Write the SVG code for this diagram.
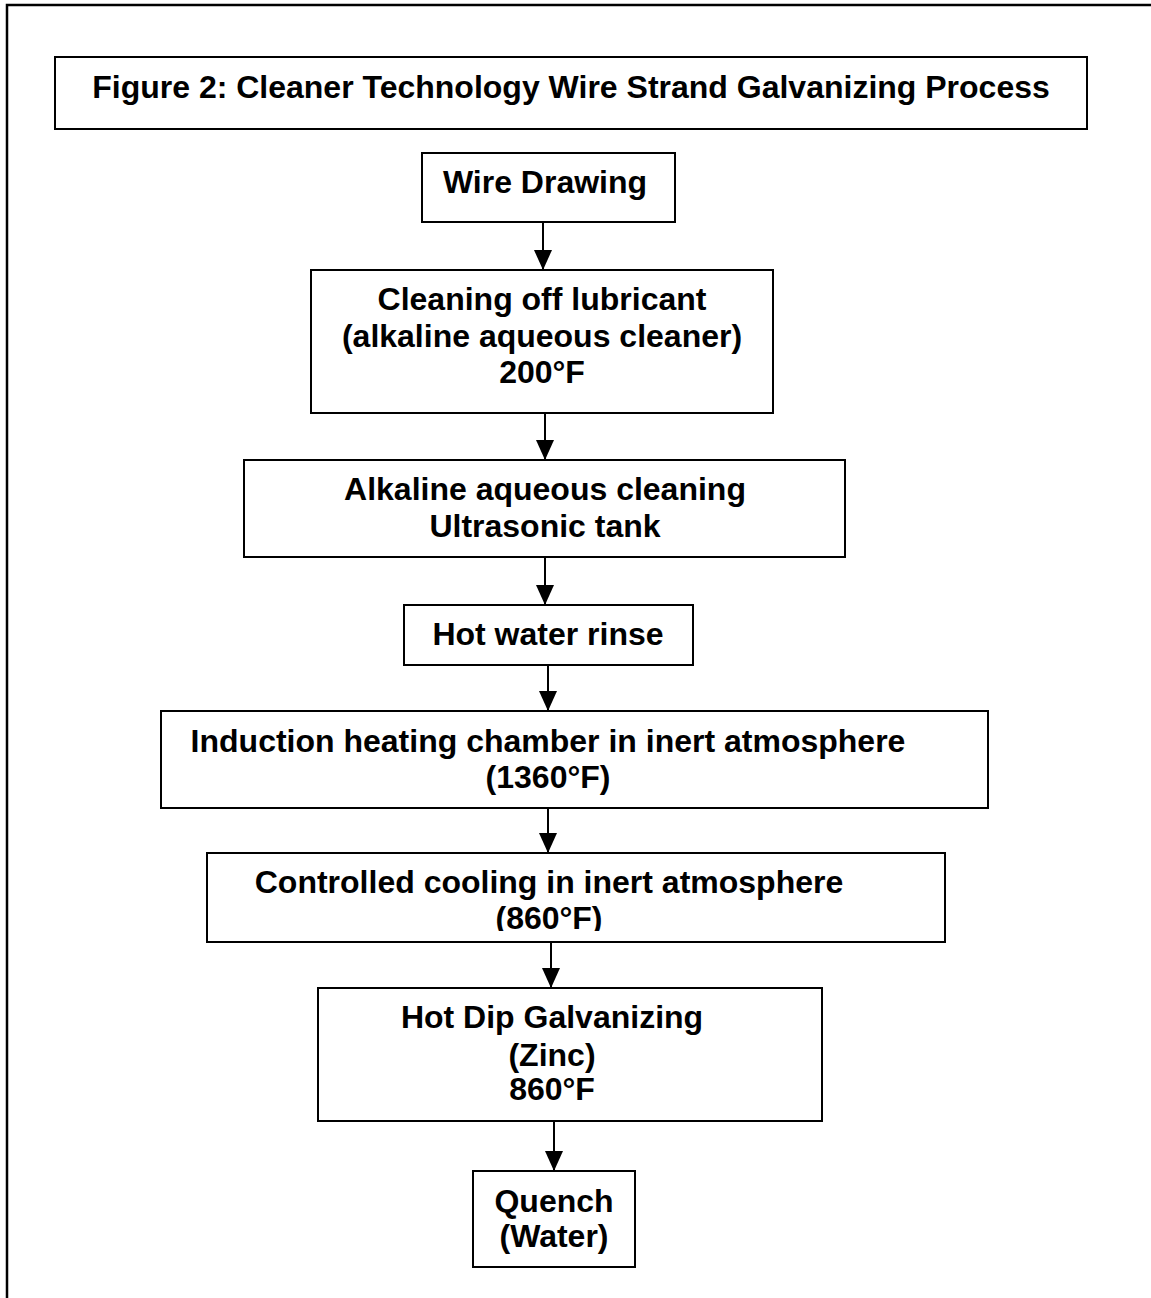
<svg xmlns="http://www.w3.org/2000/svg" width="1151" height="1298" viewBox="0 0 1151 1298">
<defs>
<style>
.box{fill:#fff;stroke:#000;stroke-width:2}
.t{font-family:"Liberation Sans",Arial,sans-serif;font-weight:bold;font-size:32px;fill:#000;text-anchor:middle}
.c{stroke:#000;stroke-width:2;fill:none;marker-end:url(#ah)}
</style>
<marker id="ah" viewBox="0 0 20 18" refX="20" refY="9" markerWidth="20" markerHeight="18" markerUnits="userSpaceOnUse" orient="auto">
<path d="M0,0 L20,9 L0,18 z" fill="#000"/>
</marker>
<clipPath id="clipCool"><rect x="207" y="853" width="738" height="78"/></clipPath>
</defs>
<rect x="0" y="0" width="1151" height="1298" fill="#fff"/>
<g id="frame">
<path d="M7,1298 V5 H1151" fill="none" stroke="#000" stroke-width="2.5"/>
</g>
<g id="title">
<rect class="box" x="55" y="57" width="1032" height="72"/>
<text class="t" x="571" y="98">Figure 2: Cleaner Technology Wire Strand Galvanizing Process</text>
</g>
<g id="connectors">
<line class="c" x1="543" y1="222" x2="543" y2="270"/>
<line class="c" x1="545" y1="413" x2="545" y2="460"/>
<line class="c" x1="545" y1="557" x2="545" y2="605"/>
<line class="c" x1="548" y1="665" x2="548" y2="711"/>
<line class="c" x1="548" y1="808" x2="548" y2="853"/>
<line class="c" x1="551" y1="942" x2="551" y2="988"/>
<line class="c" x1="554" y1="1121" x2="554" y2="1171"/>
</g>
<g id="wire-drawing">
<rect class="box" x="422" y="153" width="253" height="69"/>
<text class="t" x="545" y="193">Wire Drawing</text>
</g>
<g id="cleaning">
<rect class="box" x="311" y="270" width="462" height="143"/>
<text class="t" x="542" y="310">Cleaning off lubricant</text>
<text class="t" x="542" y="347">(alkaline aqueous cleaner)</text>
<text class="t" x="542" y="383">200°F</text>
</g>
<g id="alkaline">
<rect class="box" x="244" y="460" width="601" height="97"/>
<text class="t" x="545" y="500">Alkaline aqueous cleaning</text>
<text class="t" x="545" y="537">Ultrasonic tank</text>
</g>
<g id="rinse">
<rect class="box" x="404" y="605" width="289" height="60"/>
<text class="t" x="548" y="645">Hot water rinse</text>
</g>
<g id="induction">
<rect class="box" x="161" y="711" width="827" height="97"/>
<text class="t" x="548" y="752">Induction heating chamber in inert atmosphere</text>
<text class="t" x="548" y="788">(1360°F)</text>
</g>
<g id="cooling">
<rect class="box" x="207" y="853" width="738" height="89"/>
<g clip-path="url(#clipCool)">
<text class="t" x="549" y="893">Controlled cooling in inert atmosphere</text>
<text class="t" x="549" y="929">(860°F)</text>
</g>
</g>
<g id="galvanizing">
<rect class="box" x="318" y="988" width="504" height="133"/>
<text class="t" x="552" y="1028">Hot Dip Galvanizing</text>
<text class="t" x="552" y="1066">(Zinc)</text>
<text class="t" x="552" y="1100">860°F</text>
</g>
<g id="quench">
<rect class="box" x="473" y="1171" width="162" height="96"/>
<text class="t" x="554" y="1212">Quench</text>
<text class="t" x="554" y="1247">(Water)</text>
</g>
</svg>
